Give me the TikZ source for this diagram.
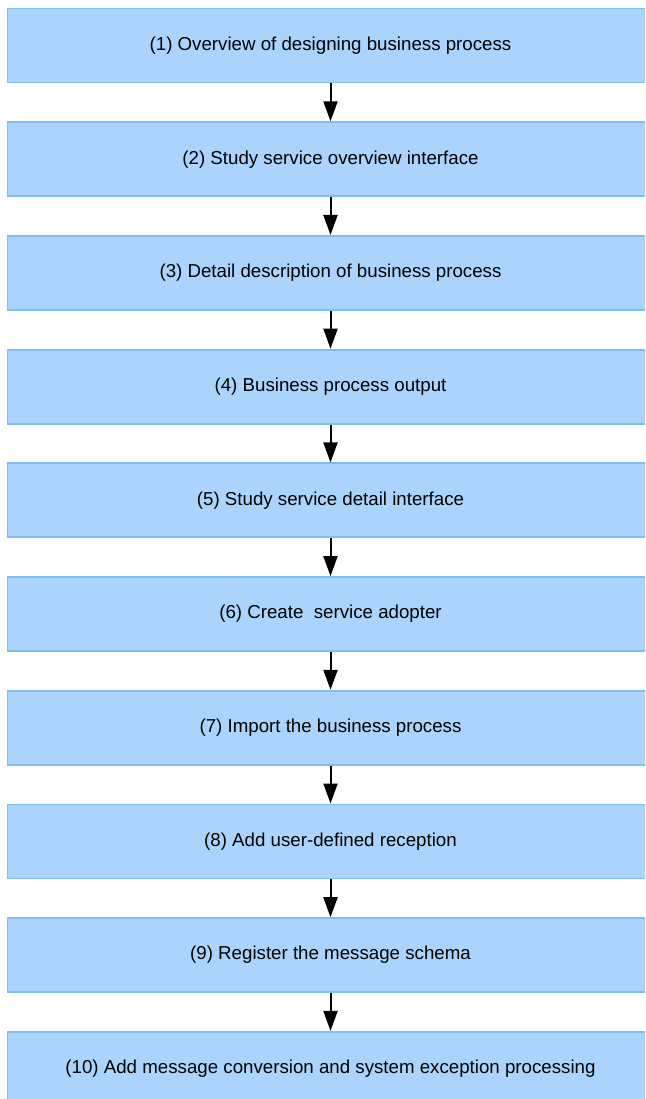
\documentclass[tikz,border=0pt]{standalone}
\usepackage{fontspec}
\setmainfont{Liberation Sans}
\usetikzlibrary{arrows.meta}
\definecolor{stepfill}{RGB}{170,212,251}
\definecolor{stepline}{RGB}{128,188,245}
\begin{document}
\begin{tikzpicture}[x=1pt,y=-1pt,
  stepbox/.style={draw=stepline,fill=stepfill,line width=1.8pt,minimum width=646pt,minimum height=74pt,inner sep=0pt,
    font=\fontsize{18.7}{22}\selectfont,text=black},
  flow/.style={line width=2pt,-{Triangle[length=20pt,width=14pt]}}]
\useasboundingbox (0,0) rectangle (645,1099);
\clip (0,0) rectangle (645,1099);
\node[stepbox] (s1) at (330.5,45.5) {(1) Overview of designing business process};
\node[stepbox] (s2) at (330.5,159.2) {(2) Study service overview interface};
\node[stepbox] (s3) at (330.5,272.9) {(3) Detail description of business process};
\node[stepbox] (s4) at (330.5,386.6) {(4) Business process output};
\node[stepbox] (s5) at (330.5,500.3) {(5) Study service detail interface};
\node[stepbox] (s6) at (330.5,614) {(6) Create\ \ service adopter};
\node[stepbox] (s7) at (330.5,727.7) {(7) Import the business process};
\node[stepbox] (s8) at (330.5,841.4) {(8) Add user-defined reception};
\node[stepbox] (s9) at (330.5,955.1) {(9) Register the message schema};
\node[stepbox] (s10) at (330.5,1068.8) {(10) Add message conversion and system exception processing};
\foreach \a/\b in {s1/s2,s2/s3,s3/s4,s4/s5,s5/s6,s6/s7,s7/s8,s8/s9,s9/s10}
  \draw[flow] (\a.south) -- (\b.north);
\end{tikzpicture}
\end{document}
